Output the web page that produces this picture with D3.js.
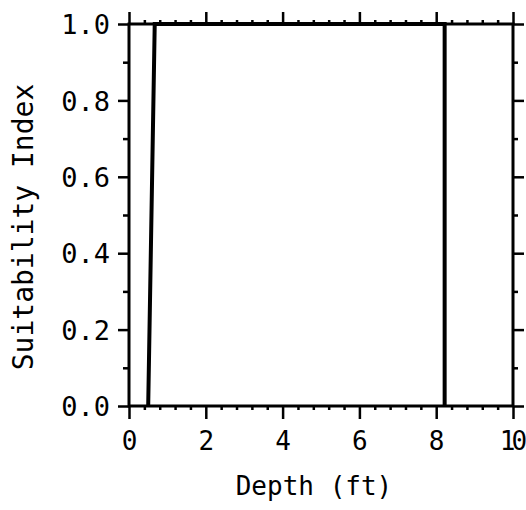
<!DOCTYPE html>
<html>
<head>
<meta charset="utf-8">
<script src="https://cdn.jsdelivr.net/npm/d3@7"></script>
<style>
  html, body { margin: 0; padding: 0; background: #fff; }
  svg { display: block; }
  text { font-family: "DejaVu Sans Mono", monospace; fill: #000; }
</style>
</head>
<body>
<svg id="chart" width="526" height="510"></svg>
<script>
// ---- data ----
const depth = [0.5, 0.67, 8.22, 8.22];
const suitability = [0, 1.0, 1.0, 0];
const xTicks = [0, 2, 4, 6, 8, 10];
const xTickLabels = ["0", "2", "4", "6", "8", "10"];
const yTicks = [0, 0.2, 0.4, 0.6, 0.8, 1.0];
const yTickLabels = ["0.0", "0.2", "0.4", "0.6", "0.8", "1.0"];
const xMinor = [0.4, 0.8, 1.2, 1.6, 2.4, 2.8, 3.2, 3.6, 4.4, 4.8, 5.2, 5.6, 6.4, 6.8, 7.2, 7.6, 8.4, 8.8, 9.2, 9.6];
const yMinor = [0.1, 0.3, 0.5, 0.7, 0.9];
const xTitle = "Depth (ft)";
const yTitle = "Suitability Index";

(function () {
  // ---- layout ----
  const W = 526;
  const pL = 129, pR = 513, pT = 24, pB = 406;
  const svg = d3.select("#chart");
  const x = d3.scaleLinear().domain([0, 10]).range([pL, pR]);
  const y = d3.scaleLinear().domain([0, 1]).range([pB, pT]);

  function styleAxis(g) {
    g.selectAll(".domain").remove();
    g.selectAll("line").attr("stroke", "#000").attr("stroke-width", 2.5);
  }

  // major ticks
  const gB = svg.append("g").attr("transform", `translate(0,${pB})`)
    .call(d3.axisBottom(x).tickValues(xTicks).tickSize(13).tickFormat((d, i) => xTickLabels[i]));
  styleAxis(gB);
  gB.selectAll("text")
    .attr("y", 44).attr("dy", 0)
    .attr("font-size", 26)
    .attr("letter-spacing", "-4px")
    .attr("dx", 2 * -1);
  // keep labels inside the canvas
  gB.selectAll("text").each(function () {
    const bb = this.getBBox();
    const over = bb.x + bb.width - (W - 5);
    if (over > 0) d3.select(this).attr("dx", -2 - over);
  });

  const gT = svg.append("g").attr("transform", `translate(0,${pT})`)
    .call(d3.axisTop(x).tickValues(xTicks).tickSize(12).tickFormat(""));
  styleAxis(gT);

  const gL = svg.append("g").attr("transform", `translate(${pL},0)`)
    .call(d3.axisLeft(y).tickValues(yTicks).tickSize(11).tickPadding(8).tickFormat((d, i) => yTickLabels[i]));
  styleAxis(gL);
  gL.selectAll("text").attr("font-size", 27).attr("dy", "0.36em");

  const gR = svg.append("g").attr("transform", `translate(${pR},0)`)
    .call(d3.axisRight(y).tickValues(yTicks).tickSize(11).tickFormat(""));
  styleAxis(gR);

  // minor ticks
  const mB = svg.append("g").attr("transform", `translate(0,${pB})`)
    .call(d3.axisBottom(x).tickValues(xMinor).tickSize(4).tickFormat(""));
  styleAxis(mB);
  const mT = svg.append("g").attr("transform", `translate(0,${pT})`)
    .call(d3.axisTop(x).tickValues(xMinor).tickSize(4).tickFormat(""));
  styleAxis(mT);
  const mL = svg.append("g").attr("transform", `translate(${pL},0)`)
    .call(d3.axisLeft(y).tickValues(yMinor).tickSize(6).tickFormat(""));
  styleAxis(mL);
  const mR = svg.append("g").attr("transform", `translate(${pR},0)`)
    .call(d3.axisRight(y).tickValues(yMinor).tickSize(5).tickFormat(""));
  styleAxis(mR);

  // frame
  svg.append("rect")
    .attr("x", pL).attr("y", pT)
    .attr("width", pR - pL).attr("height", pB - pT)
    .attr("fill", "none").attr("stroke", "#000").attr("stroke-width", 3);

  // data line
  const line = d3.line().x((d, i) => x(depth[i])).y((d, i) => y(suitability[i]));
  svg.append("path")
    .datum(depth)
    .attr("d", line)
    .attr("fill", "none")
    .attr("stroke", "#000")
    .attr("stroke-width", 4)
    .attr("stroke-linejoin", "miter");

  // titles
  svg.append("text")
    .attr("x", 314).attr("y", 495)
    .attr("text-anchor", "middle")
    .attr("font-size", 26)
    .text(xTitle);

  svg.append("text")
    .attr("transform", "translate(33,227) rotate(-90)")
    .attr("text-anchor", "middle")
    .attr("font-size", 28)
    .text(yTitle);
})();
</script>
</body>
</html>
